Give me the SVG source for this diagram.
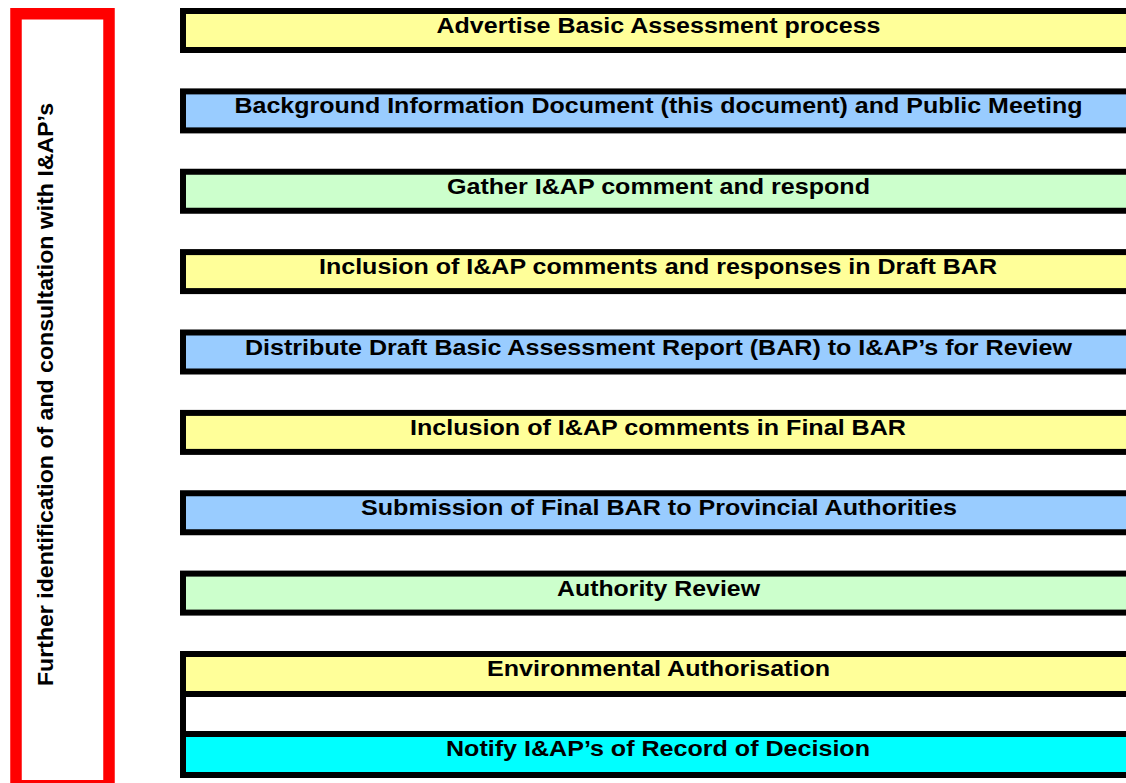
<svg xmlns="http://www.w3.org/2000/svg" width="1126" height="783" viewBox="0 0 1126 783">
<style>
.bar{stroke:#000;stroke-width:6}
.y{fill:#FFFF99}.b{fill:#99CCFF}.g{fill:#CCFFCC}.c{fill:#00FFFF}.w{fill:#FFFFFF}
.t{font-family:"Liberation Sans",Arial,sans-serif;font-weight:bold;font-size:22.5px;fill:#000;text-anchor:middle}
.v{font-family:"Liberation Sans",Arial,sans-serif;font-weight:bold;font-size:21.5px;fill:#000;text-anchor:middle}
</style>
<rect width="1126" height="783" fill="#fff"/>
<g id="side">
<rect x="16" y="13.75" width="93" height="772" fill="#fff" stroke="#FF0000" stroke-width="11.5"/>
<text class="v" transform="translate(53,394.5) rotate(-90)" x="0" y="0" textLength="583" lengthAdjust="spacingAndGlyphs">Further identification of and consultation with I&amp;AP’s</text>
</g>
<g id="n1"><rect class="bar y" x="183" y="11" width="960" height="39"/><text class="t" x="658.5" y="33" textLength="444" lengthAdjust="spacingAndGlyphs">Advertise Basic Assessment process</text></g>
<g id="n2"><rect class="bar b" x="183" y="91.4" width="960" height="39"/><text class="t" x="658.5" y="113.4" textLength="848" lengthAdjust="spacingAndGlyphs">Background Information Document (this document) and Public Meeting</text></g>
<g id="n3"><rect class="bar g" x="183" y="171.75" width="960" height="39"/><text class="t" x="658.5" y="193.7" textLength="423" lengthAdjust="spacingAndGlyphs">Gather I&amp;AP comment and respond</text></g>
<g id="n4"><rect class="bar y" x="183" y="252.1" width="960" height="39"/><text class="t" x="658" y="274.1" textLength="678" lengthAdjust="spacingAndGlyphs">Inclusion of I&amp;AP comments and responses in Draft BAR</text></g>
<g id="n5"><rect class="bar b" x="183" y="332.5" width="960" height="39"/><text class="t" x="658.5" y="354.5" textLength="827" lengthAdjust="spacingAndGlyphs">Distribute Draft Basic Assessment Report (BAR) to I&amp;AP’s for Review</text></g>
<g id="n6"><rect class="bar y" x="183" y="412.9" width="960" height="39"/><text class="t" x="658" y="434.9" textLength="496" lengthAdjust="spacingAndGlyphs">Inclusion of I&amp;AP comments in Final BAR</text></g>
<g id="n7"><rect class="bar b" x="183" y="493.25" width="960" height="39"/><text class="t" x="659" y="515.2" textLength="596" lengthAdjust="spacingAndGlyphs">Submission of Final BAR to Provincial Authorities</text></g>
<g id="n8"><rect class="bar g" x="183" y="573.6" width="960" height="39"/><text class="t" x="658.5" y="595.6" textLength="203" lengthAdjust="spacingAndGlyphs">Authority Review</text></g>
<g id="n9">
<rect class="bar w" x="183" y="694" width="960" height="40"/>
<rect class="bar y" x="183" y="654" width="960" height="40"/>
<rect class="bar c" x="183" y="734" width="960" height="41"/>
<text class="t" x="658.5" y="676" textLength="343" lengthAdjust="spacingAndGlyphs">Environmental Authorisation</text>
<text class="t" x="658" y="756" textLength="424" lengthAdjust="spacingAndGlyphs">Notify I&amp;AP’s of Record of Decision</text>
</g>
<g id="connectors"></g>
</svg>
